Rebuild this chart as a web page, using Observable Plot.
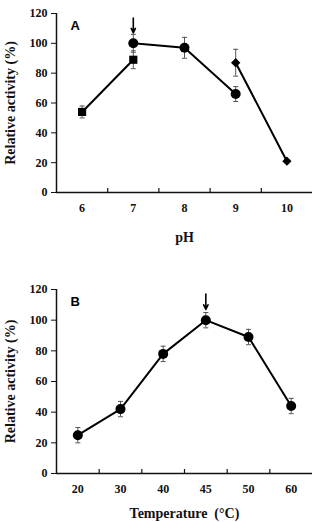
<!DOCTYPE html>
<html>
<head>
<meta charset="utf-8">
<script src="https://cdn.jsdelivr.net/npm/d3@7"></script>
<script src="https://cdn.jsdelivr.net/npm/@observablehq/plot@0.6"></script>
<style>
  html, body { margin: 0; padding: 0; background: #fff; }
  #chart { width: 314px; height: 522px; overflow: hidden; }
  #chart svg { display: block; }
</style>
</head>
<body>
<div id="chart"></div>
<script>
// Panel A: activity vs pH, three buffer series
const phLabels = ["6", "7", "8", "9", "10"];
const sqPH = ["6", "7"];
const sqAct = [54, 89];
const sqErr = [4, 6];
const cirPH = ["7", "8", "9"];
const cirAct = [100, 97, 66];
const cirErr = [6, 7, 5];
const diaPH = ["9", "10"];
const diaAct = [87, 21];
const diaErr = [9, 1];
const phOptimum = "7";

// Panel B: activity vs temperature
const tempLabels = ["20", "30", "40", "45", "50", "60"];
const tempAct = [25, 42, 78, 100, 89, 44];
const tempErr = [5, 5, 5, 5, 5, 5];
const tempOptimum = "45";

const yTicks = [0, 20, 40, 60, 80, 100, 120];

const serif = "'Liberation Serif', 'Times New Roman', serif";
const sans = "'Liberation Sans', Arial, sans-serif";

const rows = (cats, xs, ys, es) => xs.map((c, i) => ({x: cats.indexOf(c), y: ys[i], e: es[i]}));

// horizontal cap for error bars
const cap = {draw(ctx) { ctx.moveTo(-2.5, 0); ctx.lineTo(2.5, 0); }};

function panel({cats, series, optimum, letter, xLabel, xLabelOffset, height, marginTop, marginBottom}) {
  const n = cats.length;
  const idx = d3.range(n);
  const bounds = d3.range(1, n).map(i => i - 0.5);
  const innerH = height - marginTop - marginBottom;
  const tickUnits = 120 * 4 / innerH;
  const marks = [
    Plot.ruleY([0], {strokeWidth: 1.5}),
    Plot.ruleX([-0.5], {y1: 0, y2: 120, strokeWidth: 1.5}),
    Plot.ruleX(bounds, {x: d => d, y1: 0, y2: tickUnits, strokeWidth: 1.2}),
    Plot.axisY({ticks: yTicks, tickSize: 5, tickPadding: 4, label: null,
      fontSize: 12, fontWeight: "bold", fontFamily: serif}),
    Plot.axisX({ticks: idx, tickFormat: i => cats[i], tickSize: 0, tickPadding: 11, label: null,
      fontSize: 12, fontWeight: "bold", fontFamily: serif}),
    Plot.text(["Relative activity (%)"], {frameAnchor: "left", rotate: -90, dx: -46, textAnchor: "middle",
      lineAnchor: "middle", fontSize: 14, fontWeight: "bold", fontFamily: serif, fill: "#111"}),
    Plot.text([xLabel], {frameAnchor: "bottom", dy: xLabelOffset, lineAnchor: "middle", textAnchor: "middle",
      fontSize: 14, fontWeight: "bold", fontFamily: serif, fill: "#111"}),
    Plot.text([letter], {frameAnchor: "top-left", dx: 14, dy: 7, lineAnchor: "top", textAnchor: "start",
      fontSize: 13, fontWeight: "bold", fontFamily: sans, fill: "#000"})
  ];
  for (const s of series) {
    marks.push(
      Plot.ruleX(s.data, {x: "x", y1: d => d.y - d.e, y2: d => d.y + d.e, stroke: "#555", strokeWidth: 1}),
      Plot.dot(s.data, {x: "x", y: d => d.y - d.e, symbol: cap, stroke: "#555", strokeWidth: 1, r: 2}),
      Plot.dot(s.data, {x: "x", y: d => d.y + d.e, symbol: cap, stroke: "#555", strokeWidth: 1, r: 2}),
      Plot.line(s.data, {x: "x", y: "y", stroke: "#000", strokeWidth: 2}),
      Plot.dot(s.data, {x: "x", y: "y", symbol: s.symbol, r: s.r, fill: "#000", stroke: "none"})
    );
  }
  const oi = cats.indexOf(optimum);
  const top = series.flatMap(s => s.data).filter(d => d.x === oi).reduce((m, d) => Math.max(m, d.y), 0);
  marks.push(Plot.arrow([{x: oi, y1: top + 17, y2: top + 7}], {
    x1: "x", x2: "x", y1: "y1", y2: "y2", stroke: "#000", strokeWidth: 1.6, headLength: 7, headAngle: 50
  }));
  return Plot.plot({
    width: 314,
    height,
    marginLeft: 56,
    marginRight: 2,
    marginTop,
    marginBottom,
    style: {background: "#fff", color: "#111"},
    x: {type: "linear", domain: [-0.5, n - 0.5], axis: null},
    y: {domain: [0, 120], axis: null},
    marks
  });
}

const chart = document.getElementById("chart");
chart.append(panel({
  cats: phLabels,
  series: [
    {data: rows(phLabels, sqPH, sqAct, sqErr), symbol: "square", r: 4.6},
    {data: rows(phLabels, cirPH, cirAct, cirErr), symbol: "circle", r: 5},
    {data: rows(phLabels, diaPH, diaAct, diaErr), symbol: "diamond2", r: 4.2}
  ],
  optimum: phOptimum,
  letter: "A",
  xLabel: "pH",
  xLabelOffset: 45,
  height: 258, marginTop: 13, marginBottom: 66
}));
chart.append(panel({
  cats: tempLabels,
  series: [
    {data: rows(tempLabels, tempLabels, tempAct, tempErr), symbol: "circle", r: 5}
  ],
  optimum: tempOptimum,
  letter: "B",
  xLabel: "Temperature  (°C)",
  xLabelOffset: 40,
  height: 264, marginTop: 31, marginBottom: 49
}));
</script>
</body>
</html>
